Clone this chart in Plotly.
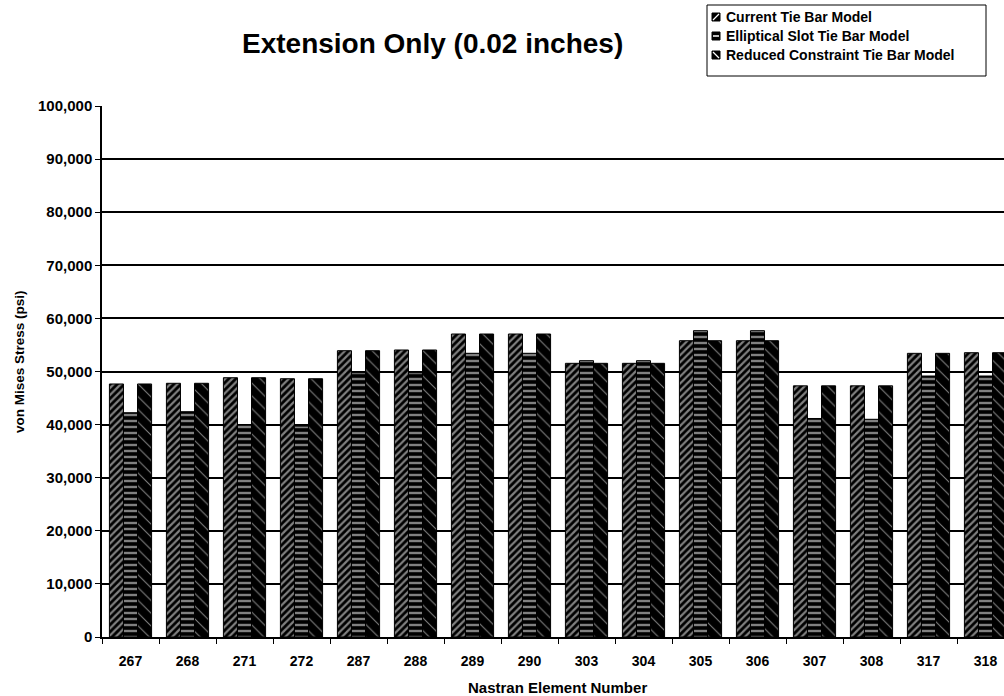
import plotly.graph_objects as go

# Nastran element numbers along the x axis
elements = ["267", "268", "271", "272", "287", "288", "289", "290",
            "303", "304", "305", "306", "307", "308", "317", "318"]

# von Mises stress (psi) for each tie bar model
current_tie_bar = [47650, 47780, 48830, 48640, 53920, 54050, 57060, 57060,
                   51540, 51540, 55800, 55800, 47300, 47300, 53420, 53540]
elliptical_slot = [42240, 42430, 40000, 39700, 49770, 49770, 53430, 53430,
                   52040, 52040, 57690, 57690, 41150, 41000, 49150, 49150]
reduced_constraint = [47650, 47780, 48830, 48640, 53920, 54050, 57060, 57060,
                      51540, 51540, 55800, 55800, 47300, 47300, 53420, 53540]

series_names = ["Current Tie Bar Model", "Elliptical Slot Tie Bar Model",
                "Reduced Constraint Tie Bar Model"]
y_ticks = [0, 10000, 20000, 30000, 40000, 50000, 60000, 70000, 80000, 90000, 100000]

FONT = "Liberation Sans, Arial, Helvetica, sans-serif"

W, H = 1004, 696
L, R, T, B = 102, 0, 106, 59
PW = W - L - R
PH = H - T - B


def px_x(px):
    return (px - L) / PW


def px_y(py):
    return (H - B - py) / PH


patterns = [
    dict(shape="/", fgcolor="white", bgcolor="black", size=5, solidity=0.45, fillmode="overlay"),
    dict(shape="-", fgcolor="white", bgcolor="black", size=6, solidity=0.4, fillmode="overlay"),
    dict(shape="\\", fgcolor="white", bgcolor="black", size=9, solidity=0.12, fillmode="overlay"),
]

fig = go.Figure()
for name, vals, pat in zip(series_names,
                           [current_tie_bar, elliptical_slot, reduced_constraint],
                           patterns):
    fig.add_trace(go.Bar(
        x=elements, y=vals, name=name, showlegend=False,
        marker=dict(color="black", line=dict(color="black", width=1), pattern=pat),
    ))

# visible part of the category axis: the last group runs past the right edge
cat_px = 57.0
x_end = -0.5 + PW / cat_px

fig.update_layout(
    width=W, height=H,
    margin=dict(l=L, r=R, t=T, b=B, pad=0),
    paper_bgcolor="white", plot_bgcolor="white",
    barmode="group", bargap=0.26, bargroupgap=0.0,
    font=dict(family=FONT, color="black"),
    xaxis=dict(
        type="category", range=[-0.5, x_end], tickson="boundaries",
        ticks="outside", ticklen=5, tickcolor="black", tickwidth=1,
        ticklabelstandoff=10,
        showline=True, linecolor="black", linewidth=1.5,
        showgrid=False, zeroline=False,
        tickfont=dict(family=FONT, size=14, color="black", weight="bold"),
    ),
    yaxis=dict(
        range=[0, 100000], tickvals=y_ticks,
        ticktext=[f"{v:,}" for v in y_ticks],
        ticks="outside", ticklen=5, tickcolor="black", tickwidth=1,
        showline=True, linecolor="black", linewidth=1.5,
        showgrid=True, gridcolor="black", gridwidth=1.5,
        zeroline=False,
        tickfont=dict(family=FONT, size=15, color="black", weight="bold"),
    ),
)

annotations = [
    dict(text="<b>Extension Only (0.02 inches)</b>", xref="paper", yref="paper",
         x=px_x(432), y=px_y(44), xanchor="center", yanchor="middle",
         showarrow=False, font=dict(family=FONT, size=28, color="black")),
    dict(text="<b>von Mises Stress (psi)</b>", xref="paper", yref="paper",
         x=px_x(19), y=px_y(362), xanchor="center", yanchor="middle", textangle=-90,
         showarrow=False, font=dict(family=FONT, size=13.5, color="black")),
    dict(text="<b>Nastran Element Number</b>", xref="paper", yref="paper",
         x=px_x(557), y=px_y(687), xanchor="center", yanchor="middle",
         showarrow=False, font=dict(family=FONT, size=15, color="black")),
]

shapes = [
    dict(type="rect", xref="paper", yref="paper",
         x0=px_x(707), x1=px_x(986), y0=px_y(5), y1=px_y(76),
         line=dict(color="black", width=1), fillcolor="white"),
]

# legend rows: small black swatch with a white mark, then the series name
legend_rows = [17, 36, 55]
for i, (name, row) in enumerate(zip(series_names, legend_rows)):
    shapes.append(dict(type="rect", xref="paper", yref="paper",
                       x0=px_x(712), x1=px_x(720), y0=px_y(row + 4), y1=px_y(row - 4),
                       line=dict(color="black", width=1), fillcolor="black"))
    if i == 1:
        shapes.append(dict(type="line", xref="paper", yref="paper",
                           x0=px_x(713), x1=px_x(719), y0=px_y(row), y1=px_y(row),
                           line=dict(color="white", width=1.5)))
    else:
        a, b = (713, 719) if i == 0 else (719, 713)
        shapes.append(dict(type="line", xref="paper", yref="paper",
                           x0=px_x(a), x1=px_x(b), y0=px_y(row + 3), y1=px_y(row - 3),
                           line=dict(color="white", width=1.2)))
    annotations.append(dict(text=f"<b>{name}</b>", xref="paper", yref="paper",
                            x=px_x(724), y=px_y(row), xanchor="left", yanchor="middle",
                            showarrow=False, font=dict(family=FONT, size=14, color="black")))

fig.update_layout(annotations=annotations, shapes=shapes)

fig.write_html("out.html")
